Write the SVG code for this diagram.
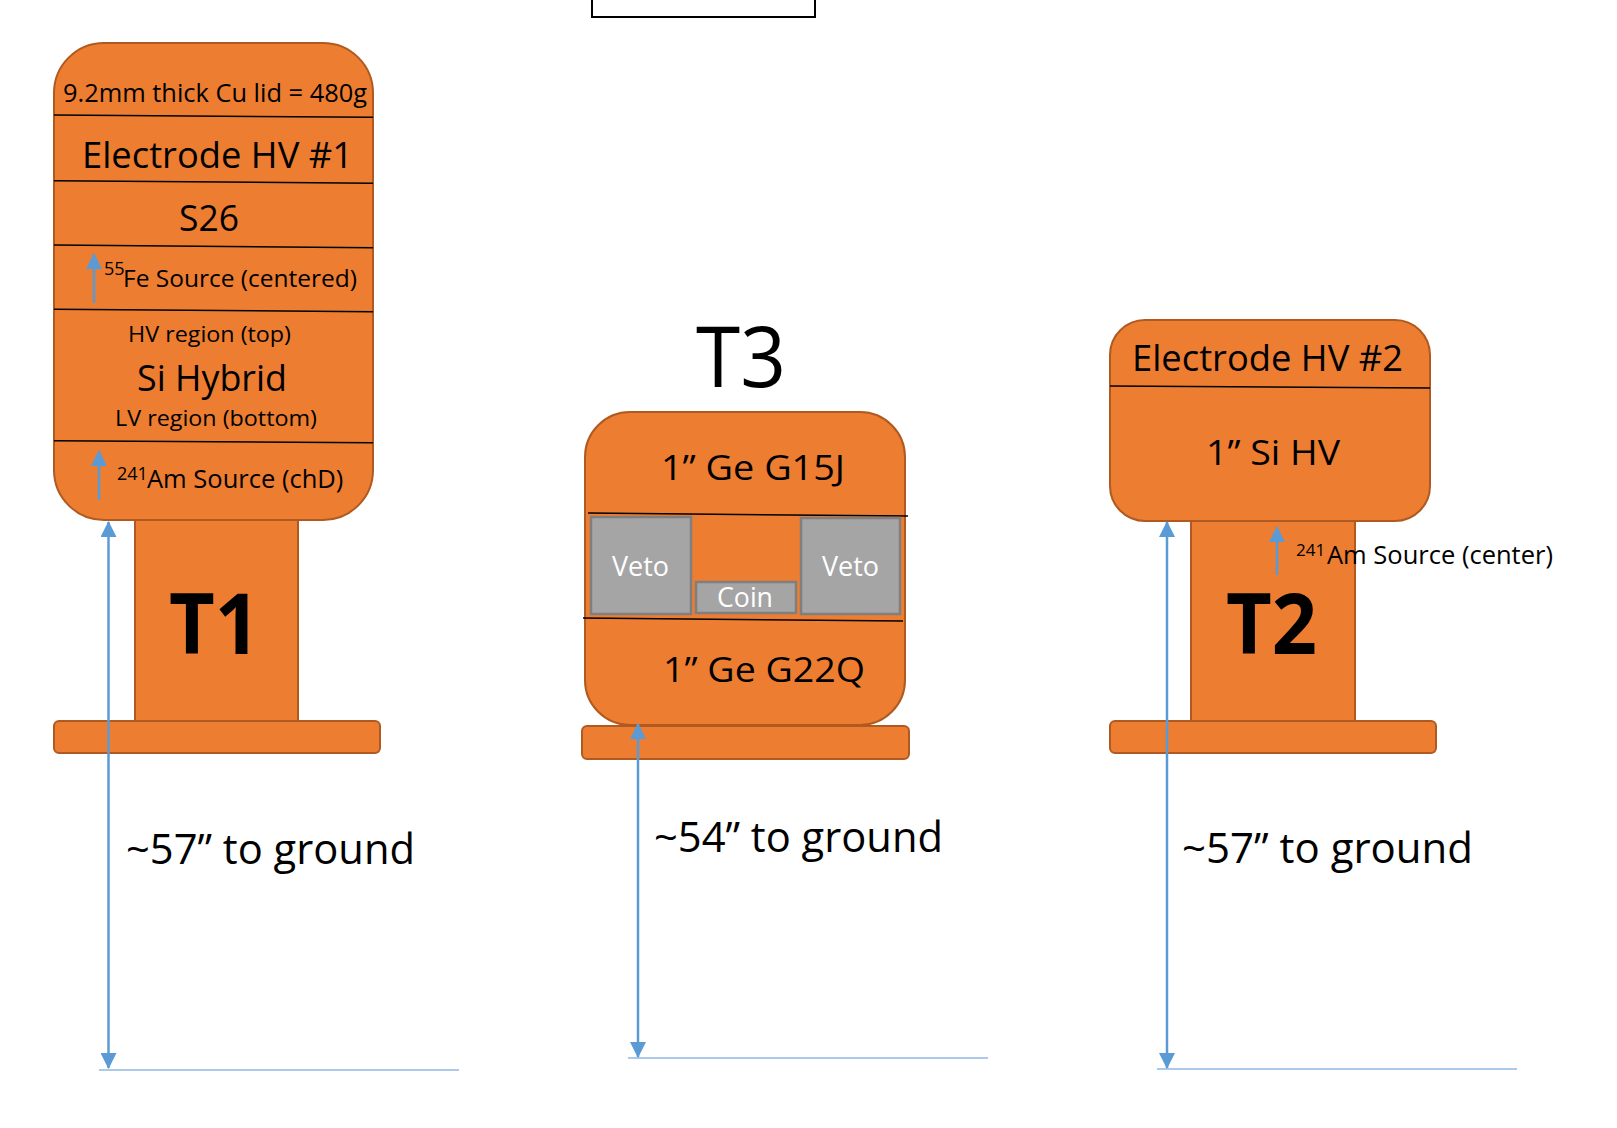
<svg xmlns="http://www.w3.org/2000/svg" width="1617" height="1128" viewBox="0 0 1617 1128">
  <style>
    .body { fill: #ED7D31; stroke: #AE5A21; stroke-width: 2; }
    .sep { stroke: #000; stroke-width: 1.5; fill: none; }
    .gray { fill: #A5A5A5; stroke: #7F7F7F; stroke-width: 2.5; }
    .t { font-family: "Open Sans", "Noto Sans", "Liberation Sans", sans-serif; fill: #000; }
    .w { fill: #fff; }
    .b { font-weight: 700; }
    .arr { stroke: #5B9BD5; stroke-width: 2.5; fill: none; }
    .gnd { stroke: #8FB8E3; stroke-width: 1.5; fill: none; }
  </style>
  <defs>
    <marker id="ah" markerUnits="userSpaceOnUse" markerWidth="16" markerHeight="16" viewBox="0 0 16 16" refX="15" refY="8" orient="auto-start-reverse">
      <path d="M0,0 L16,8 L0,16 Z" fill="#5B9BD5"/>
    </marker>
  </defs>
  <rect width="1617" height="1128" fill="#fff"/>

  <g id="top-box">
    <rect x="592" y="-10" width="223" height="27" fill="#fff" stroke="#000" stroke-width="2"/>
  </g>

  <g id="node-t1">
    <rect class="body" x="135" y="505" width="163" height="216"/>
    <rect class="body" x="54" y="721" width="326" height="32" rx="5"/>
    <rect class="body" x="54" y="43" width="319" height="477" rx="50"/>
    <line class="sep" x1="54" y1="115" x2="373" y2="117.3"/>
    <line class="sep" x1="54" y1="180.7" x2="373" y2="183.3"/>
    <line class="sep" x1="54" y1="245" x2="373" y2="247.7"/>
    <line class="sep" x1="54" y1="309.3" x2="373" y2="311.7"/>
    <line class="sep" x1="54" y1="440.7" x2="373" y2="442.7"/>
    <text class="t" x="63" y="102" font-size="26" textLength="304" lengthAdjust="spacingAndGlyphs">9.2mm thick Cu lid = 480g</text>
    <text class="t" x="82" y="168" font-size="37" textLength="271" lengthAdjust="spacingAndGlyphs">Electrode HV #1</text>
    <text class="t" x="179" y="231" font-size="37" textLength="60" lengthAdjust="spacingAndGlyphs">S26</text>
    <text class="t" x="104" y="287"><tspan font-size="18" dy="-12">55</tspan><tspan x="123" y="287" font-size="24.5">Fe Source (centered)</tspan></text>
    <text class="t" x="128" y="342" font-size="22.5" textLength="163" lengthAdjust="spacingAndGlyphs">HV region (top)</text>
    <text class="t" x="137" y="391" font-size="36.5" textLength="150" lengthAdjust="spacingAndGlyphs">Si Hybrid</text>
    <text class="t" x="115" y="426" font-size="22.5" textLength="202" lengthAdjust="spacingAndGlyphs">LV region (bottom)</text>
    <text class="t" x="117" y="488"><tspan font-size="18" dy="-8">241</tspan><tspan x="147" y="488" font-size="25.5">Am Source (chD)</tspan></text>
    <text class="t b" x="169" y="654" font-size="85" textLength="91" lengthAdjust="spacingAndGlyphs">T1</text>
    <text class="t" x="126" y="864" font-size="42" textLength="289" lengthAdjust="spacingAndGlyphs">~57” to ground</text>
  </g>

  <g id="node-t3">
    <text class="t" x="696" y="387" font-size="85" textLength="90" lengthAdjust="spacingAndGlyphs">T3</text>
    <rect class="body" x="582" y="726" width="327" height="33" rx="5"/>
    <rect class="body" x="585" y="412" width="320" height="313" rx="45"/>
    <line class="sep" x1="588" y1="513" x2="908" y2="516"/>
    <line class="sep" x1="583" y1="618" x2="903" y2="621"/>
    <rect class="gray" x="591" y="517" width="100" height="97"/>
    <rect class="gray" x="801" y="518" width="99" height="96"/>
    <rect class="gray" x="696" y="582" width="100" height="31"/>
    <text class="t w" x="612" y="576" font-size="27" textLength="57" lengthAdjust="spacingAndGlyphs">Veto</text>
    <text class="t w" x="822" y="576" font-size="27" textLength="57" lengthAdjust="spacingAndGlyphs">Veto</text>
    <text class="t w" x="717" y="607" font-size="27" textLength="56" lengthAdjust="spacingAndGlyphs">Coin</text>
    <text class="t" x="661" y="480" font-size="35" textLength="184" lengthAdjust="spacingAndGlyphs">1” Ge G15J</text>
    <text class="t" x="663" y="682" font-size="35" textLength="202" lengthAdjust="spacingAndGlyphs">1” Ge G22Q</text>
    <text class="t" x="654" y="852" font-size="42" textLength="289" lengthAdjust="spacingAndGlyphs">~54” to ground</text>
  </g>

  <g id="node-t2">
    <rect class="body" x="1191" y="505" width="164" height="216"/>
    <rect class="body" x="1110" y="721" width="326" height="32" rx="5"/>
    <rect class="body" x="1110" y="320" width="320" height="201" rx="35"/>
    <line class="sep" x1="1110" y1="386" x2="1430" y2="388"/>
    <text class="t" x="1132" y="371" font-size="37" textLength="271" lengthAdjust="spacingAndGlyphs">Electrode HV #2</text>
    <text class="t" x="1206" y="465" font-size="35" textLength="134" lengthAdjust="spacingAndGlyphs">1” Si HV</text>
    <text class="t" x="1296" y="564"><tspan font-size="17" dy="-8">241</tspan><tspan x="1327" y="564" font-size="25.5">Am Source (center)</tspan></text>
    <text class="t b" x="1226" y="654" font-size="85" textLength="91" lengthAdjust="spacingAndGlyphs">T2</text>
    <text class="t" x="1182" y="863" font-size="42" textLength="291" lengthAdjust="spacingAndGlyphs">~57” to ground</text>
  </g>

  <g id="connectors">
    <line class="gnd" x1="99" y1="1070" x2="459" y2="1070"/>
    <line class="gnd" x1="628" y1="1058" x2="988" y2="1058"/>
    <line class="gnd" x1="1157" y1="1069" x2="1517" y2="1069"/>
    <line class="arr" x1="108.5" y1="522" x2="108.5" y2="1068" marker-start="url(#ah)" marker-end="url(#ah)"/>
    <line class="arr" x1="638" y1="724" x2="638" y2="1057" marker-start="url(#ah)" marker-end="url(#ah)"/>
    <line class="arr" x1="1167" y1="522" x2="1167" y2="1068" marker-start="url(#ah)" marker-end="url(#ah)"/>
    <line class="arr" x1="94" y1="303" x2="94" y2="254" marker-end="url(#ah)"/>
    <line class="arr" x1="99" y1="500" x2="99" y2="451" marker-end="url(#ah)"/>
    <line class="arr" x1="1277" y1="575" x2="1277" y2="527" marker-end="url(#ah)"/>
  </g>
</svg>
